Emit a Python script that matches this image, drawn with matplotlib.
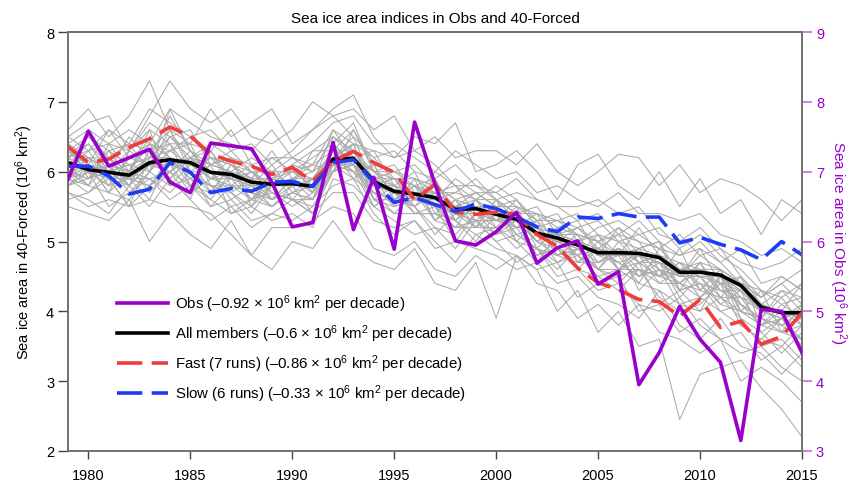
import matplotlib
matplotlib.use("Agg")
import matplotlib.pyplot as plt

plt.rcParams['font.family'] = ['Liberation Sans', 'DejaVu Sans']
plt.rcParams['mathtext.fontset'] = 'custom'
plt.rcParams['mathtext.rm'] = 'Liberation Sans'
plt.rcParams['mathtext.it'] = 'Liberation Sans'

years = list(range(1979, 2016))

# Observations (right axis, 10^6 km^2)
obs = [6.89, 7.58, 7.08, 7.20, 7.32, 6.85, 6.70, 7.41, 7.37, 7.33, 6.85,
       6.21, 6.27, 7.42, 6.17, 6.92, 5.89, 7.71, 6.82, 6.01, 5.95,
       6.14, 6.42, 5.69, 5.91, 6.01, 5.39, 5.57, 3.95, 4.41, 5.07,
       4.60, 4.27, 3.15, 5.03, 5.00, 4.41]

# Ensemble mean (left axis)
all_members = [6.13, 6.03, 5.99, 5.95, 6.13, 6.17, 6.13, 5.99, 5.96, 5.85, 5.82,
               5.83, 5.79, 6.18, 6.19, 5.86, 5.72, 5.68, 5.63, 5.46, 5.47,
               5.39, 5.32, 5.12, 5.05, 4.95, 4.84, 4.84, 4.83, 4.77, 4.56,
               4.56, 4.52, 4.37, 4.06, 3.98, 3.98]

fast = [6.36, 6.13, 6.18, 6.35, 6.47, 6.64, 6.51, 6.25, 6.15, 6.08, 5.96,
        6.06, 5.86, 6.15, 6.29, 6.13, 5.99, 5.60, 5.82, 5.42, 5.39,
        5.42, 5.39, 5.10, 4.93, 4.62, 4.41, 4.31, 4.17, 4.14, 3.93,
        4.17, 3.77, 3.86, 3.53, 3.64, 3.98]

slow = [6.08, 6.08, 5.94, 5.68, 5.75, 6.13, 5.99, 5.70, 5.76, 5.72, 5.85,
        5.86, 5.79, 6.13, 6.17, 5.85, 5.56, 5.63, 5.53, 5.43, 5.54,
        5.47, 5.35, 5.21, 5.14, 5.35, 5.33, 5.40, 5.35, 5.35, 4.98,
        5.06, 4.96, 4.88, 4.74, 5.00, 4.81]

# Individual members (left axis)
m01 = [6.3, 6.5,6.2,6.0,6.6,6.4, 6.0,5.7,6.1,5.9,5.6, 5.9,6.0,6.5,6.3,5.9, 5.9,5.5,5.8,5.6,5.3, 5.5,5.2,5.4,4.9,5.1, 4.6,5.0,4.7,4.5,4.9, 4.3,4.6,4.1,3.9,4.2, 3.8]
m02 = [5.9, 5.8,6.1,5.7,6.0,6.3, 6.4,5.8,5.7,5.5,6.0, 5.6,5.5,6.0,6.4,5.6, 5.5,5.9,5.3,5.2,5.6, 5.2,5.5,4.9,5.2,4.7, 5.0,4.6,4.9,5.0,4.3, 4.7,4.2,4.5,3.8,4.0, 4.4]
m03 = [6.0, 6.2,5.8,6.2,6.3,5.9, 6.2,6.3,5.8,5.6,5.9, 6.1,5.7,6.3,6.0,6.1, 5.6,5.8,5.9,5.4,5.2, 5.6,5.0,5.3,4.8,5.0, 5.1,4.8,4.4,4.9,4.6, 4.2,4.5,4.0,4.3,3.7, 3.6]
m04 = [6.5, 6.3,6.6,6.4,6.9,6.7, 6.5,6.6,6.3,6.4,6.1, 6.3,6.6,6.8,6.5,6.2, 6.3,6.0,5.9,6.1,5.8, 5.7,5.9,5.6,5.5,5.3, 5.4,5.1,5.3,5.0,4.8, 5.0,4.7,4.9,4.4,4.5, 4.3]
m05 = [5.7, 5.6,5.4,5.8,5.5,5.9, 5.6,5.3,5.5,5.2,5.4, 5.3,5.5,5.8,5.9,5.4, 5.1,5.3,5.0,4.7,5.1, 4.9,4.8,4.6,4.7,4.2, 4.4,4.5,4.0,4.1,3.7, 3.9,3.6,3.4,3.5,3.2, 3.0]
m06 = [6.2, 6.0,6.3,5.9,6.1,6.6, 6.1,6.2,5.9,6.0,5.7, 5.6,5.9,6.2,6.5,5.8, 5.7,5.6,5.9,5.3,5.6, 5.3,5.4,5.0,5.2,5.3, 4.8,5.2,5.0,4.6,4.4, 4.7,4.3,4.2,4.0,3.9, 4.1]
m07 = [5.9, 6.1,5.7,5.6,6.0,5.8, 5.9,5.6,6.0,5.7,5.5, 5.8,5.4,6.1,6.0,5.7, 5.4,5.7,5.3,5.5,5.2, 5.4,5.1,4.9,4.7,4.8, 4.5,4.3,4.6,4.2,4.0, 4.1,4.4,3.8,3.6,3.9, 3.5]
m08 = [6.4, 6.2,6.0,6.5,6.2,6.8, 6.3,5.9,6.2,6.1,5.9, 6.0,6.2,6.4,6.7,6.0, 5.9,5.8,5.6,5.7,5.9, 5.6,5.4,5.5,5.1,5.2, 5.3,5.0,5.1,4.9,5.1, 4.8,4.9,4.5,4.2,4.4, 4.6]
m09 = [6.0, 5.9,6.0,6.1,5.7,6.0, 6.3,6.0,5.6,5.8,5.6, 5.7,5.8,6.0,6.1,5.6, 5.8,5.4,5.5,5.0,5.4, 5.1,5.3,4.8,5.0,4.9, 4.7,4.9,4.5,4.7,4.2, 4.5,4.1,4.3,3.7,3.4, 3.7]
m10 = [6.1, 6.4,6.1,6.0,6.5,6.2, 5.8,6.1,6.0,5.6,6.0, 6.0,5.8,6.6,6.2,6.3, 5.8,6.0,5.4,5.6,5.5, 5.3,5.2,5.2,4.9,4.6, 4.9,4.7,4.8,4.4,4.6, 4.4,4.1,4.0,3.8,4.1, 3.9]
m11 = [5.8, 5.9,6.2,5.8,6.3,6.1, 6.0,5.5,5.8,6.0,5.7, 5.5,5.7,6.2,6.3,5.9, 5.5,5.6,5.7,5.3,5.0, 5.4,5.0,4.7,5.1,4.8, 4.6,4.9,4.3,4.6,4.1, 4.0,4.5,3.9,3.5,3.6, 3.3]
m12 = [6.3, 6.0,5.8,6.2,6.4,6.3, 6.5,6.2,6.1,5.9,6.2, 6.2,6.1,6.3,6.6,6.1, 6.0,5.9,5.7,5.8,5.6, 5.8,5.6,5.3,5.4,5.0, 5.2,5.3,5.1,5.2,4.9, 5.1,4.8,4.6,4.3,4.2, 4.4]
m13 = [5.6, 5.7,5.9,5.5,5.8,6.0, 5.8,5.6,5.4,5.5,5.3, 5.4,5.2,5.9,5.8,5.5, 5.3,5.1,5.2,4.9,5.3, 5.0,4.7,4.9,4.5,4.6, 4.3,4.4,4.1,4.0,4.2, 3.8,3.6,3.7,3.3,3.5, 3.2]
m14 = [6.2, 6.5,6.3,6.1,6.2,6.5, 6.2,6.4,6.2,6.0,5.8, 6.1,6.3,6.3,6.2,6.0, 6.1,5.7,5.6,5.9,5.7, 5.5,5.6,5.2,5.3,5.1, 5.0,4.8,5.2,4.8,4.7, 4.6,4.4,4.5,4.1,3.8, 4.0]
m15 = [6.0, 5.8,5.7,6.0,5.9,5.7, 6.0,5.8,5.7,5.4,5.8, 5.9,5.6,6.1,5.9,5.7, 5.6,5.5,5.2,5.1,5.4, 5.2,4.9,5.1,4.7,4.9, 4.6,4.5,4.6,4.4,4.4, 4.3,4.2,4.0,3.9,3.8, 3.6]
m16 = [6.4, 6.6,6.4,6.3,6.7,6.5, 6.6,6.1,6.0,6.2,6.0, 5.8,6.3,6.5,6.3,5.9, 6.0,6.1,5.8,5.5,5.7, 5.7,5.5,5.4,5.3,5.4, 5.1,5.0,4.9,5.0,4.5, 4.8,4.6,4.4,4.1,4.3, 4.2]
m17 = [5.8, 6.0,5.8,5.9,5.8,6.1, 5.7,5.9,5.8,5.8,5.5, 5.7,5.6,6.0,6.1,5.8, 5.5,5.6,5.5,5.4,5.3, 5.3,5.3,5.0,4.9,4.8, 4.9,4.7,4.5,4.6,4.3, 4.4,4.3,4.1,3.9,3.7, 3.8]
m18 = [6.1, 6.0,6.1,6.0,6.2,6.3, 6.1,6.0,6.0,5.7,5.9, 5.8,5.9,6.2,6.0,5.8, 5.8,5.7,5.6,5.5,5.5, 5.4,5.3,5.1,5.0,5.0, 4.8,4.9,4.8,4.6,4.5, 4.6,4.5,4.3,4.0,4.0, 4.0]
m19 = [6.6, 6.9,6.5,6.8,7.3,6.6, 6.4,6.9,6.5,6.7,6.9, 6.4,6.6,6.9,7.1,6.5, 6.2,6.5,6.4,6.7,6.0, 6.1,6.3,6.0,5.6,6.1, 6.25,5.8,5.6,6.0,5.5, 5.9,5.4,5.6,5.1,5.6, 5.4]
m20 = [5.5, 5.4,5.3,5.6,5.0,5.4, 5.1,4.9,5.3,4.8,4.6, 5.0,4.9,5.3,4.9,4.7, 4.6,4.9,4.4,4.3,4.7, 3.9,4.8,4.6,4.0,4.3, 3.7,4.0,3.5,3.6,2.45, 3.1,3.2,3.3,2.9,2.6, 2.2]
m21 = [6.5, 6.7,6.8,6.3,6.8,7.3, 6.9,6.7,6.9,6.5,6.4, 6.6,7.0,6.8,6.9,6.6, 6.8,6.3,6.5,6.2,6.3, 6.3,6.1,6.4,6.0,5.8, 6.0,6.25,6.2,5.8,6.1, 5.7,5.9,5.8,5.6,5.3, 5.6]
m22 = [5.7, 5.5,5.6,5.5,5.6,5.5, 5.5,5.4,5.1,4.8,5.2, 5.2,5.3,5.5,5.4,4.9, 4.8,5.0,4.6,4.5,4.8, 4.6,4.8,4.4,4.3,3.9, 4.1,3.8,4.1,3.7,3.6, 3.4,3.6,3.0,3.2,3.0, 2.7]
m23 = [6.2, 6.3,6.4,6.6,6.4,6.9, 6.7,6.5,6.4,6.3,6.6, 6.2,6.4,6.7,6.8,6.4, 6.4,6.2,6.0,6.3,6.1, 5.9,6.0,5.7,5.8,5.6, 5.5,5.7,5.4,5.4,5.3, 5.4,5.1,5.0,4.8,4.9, 4.7]
m24 = [5.9, 6.0,5.5,5.7,5.9,5.6, 5.8,5.5,5.6,5.3,5.4, 5.6,5.4,5.7,5.7,5.3, 5.2,5.3,4.9,5.0,4.9, 4.8,4.6,4.7,4.4,4.5, 4.2,4.1,3.9,4.3,3.8, 3.6,3.9,3.5,3.4,3.1, 3.4]
m25 = [6.3, 6.1,6.6,6.2,6.1,6.4, 6.4,6.3,6.6,6.1,6.2, 6.0,6.1,6.6,6.4,6.3, 6.2,6.3,6.1,5.8,5.8, 5.6,5.7,5.6,5.5,5.5, 5.6,5.4,5.5,5.1,5.0, 5.2,4.9,4.7,4.6,4.7, 4.9]
m26 = [6.0, 6.3,5.9,5.8,6.1,6.0, 6.2,5.7,5.9,5.6,5.8, 5.9,5.7,6.4,6.1,5.7, 5.6,5.8,5.5,5.3,5.5, 5.5,5.1,5.2,4.8,4.7, 4.9,4.6,4.7,4.5,4.7, 4.5,4.2,4.2,3.8,3.9, 4.0]
m27 = [5.8, 6.1,5.9,5.5,6.2,6.2, 5.9,5.8,5.5,5.6,5.7, 5.6,5.4,6.0,6.2,5.6, 5.4,5.4,5.4,5.2,5.3, 5.1,5.2,4.8,4.9,4.6, 4.5,4.6,4.4,4.3,4.1, 4.2,4.0,3.8,3.6,3.5, 3.8]
m28 = [6.4, 5.9,6.3,6.4,6.0,6.5, 6.3,6.1,6.3,6.0,5.8, 6.1,6.0,6.2,6.4,6.2, 5.9,5.9,5.8,5.6,5.7, 5.5,5.5,5.3,5.3,5.2, 5.0,5.1,5.0,4.9,4.8, 4.9,4.7,4.4,4.2,4.5, 4.3]
m29 = [6.1, 6.2,6.0,6.3,6.6,5.8, 6.1,6.2,6.1,5.8,6.1, 5.7,5.9,6.3,6.3,6.0, 5.7,5.5,5.7,5.5,5.4, 5.3,5.4,5.1,5.1,5.1, 4.7,4.8,4.9,4.5,4.6, 4.5,4.5,4.2,4.1,4.0, 3.9]
m30 = [5.9, 5.7,6.0,5.9,5.8,6.2, 6.0,5.8,5.8,5.7,5.6, 5.8,5.8,6.1,6.0,5.5, 5.7,5.4,5.4,5.3,5.1, 5.2,5.0,4.9,4.8,4.9, 4.6,4.6,4.6,4.5,4.4, 4.2,4.4,4.1,3.9,3.8, 3.9]
m31 = [6.2, 6.4,6.0,6.1,6.0,6.9, 6.3,6.0,5.7,5.9,6.3, 5.9,6.1,6.0,6.6,6.0, 5.8,5.6,6.0,5.8,5.4, 5.3,5.6,5.2,5.0,5.2, 4.9,5.1,4.7,4.8,4.5, 4.9,4.4,4.4,4.2,4.4, 4.1]
m32 = [5.8, 6.0,6.2,5.9,5.6,6.2, 5.9,6.1,5.4,5.6,5.5, 5.7,5.6,6.4,6.1,5.5, 5.7,5.5,5.1,5.4,5.3, 5.0,5.1,4.9,4.6,4.9, 4.6,4.4,4.7,4.1,4.3, 4.0,4.2,3.9,3.7,3.9, 3.6]
m33 = [6.1, 5.8,6.4,6.0,6.4,5.9, 6.2,6.1,6.2,5.5,5.8, 6.0,5.9,6.1,6.3,5.8, 5.9,5.6,5.6,5.5,5.6, 5.4,5.2,5.3,5.0,4.8, 5.1,4.6,4.8,4.7,4.4, 4.6,4.3,4.3,4.0,4.0, 3.8]
m34 = [6.0, 6.1,5.7,6.3,6.1,6.0, 5.6,6.3,5.9,6.1,5.6, 5.9,5.9,6.3,5.9,6.1, 5.6,5.7,5.5,5.2,5.2, 5.6,5.3,5.0,5.2,4.7, 4.7,4.9,4.6,4.5,4.7, 4.3,4.6,4.0,3.9,4.3, 4.0]
m35 = [5.9, 6.2,6.0,5.8,6.3,6.4, 5.8,5.7,6.1,5.9,5.7, 5.6,5.6,6.2,6.4,5.6, 5.6,5.8,5.3,5.6,5.2, 5.2,5.3,5.0,4.8,5.0, 4.8,4.7,4.5,4.8,4.3, 4.4,4.0,4.1,3.8,3.7, 4.1]
m36 = [6.3, 6.2,6.2,6.4,6.3,6.6, 6.0,6.2,6.1,6.0,6.0, 6.2,6.0,6.5,6.2,6.0, 6.0,5.8,5.7,5.7,5.6, 5.6,5.4,5.4,5.2,5.1, 5.0,5.2,4.8,4.8,4.6, 4.7,4.6,4.4,4.3,4.1, 4.2]
m37 = [6.0, 5.9,6.1,5.8,6.1,6.1, 6.2,5.9,5.9,5.8,5.8, 5.9,5.7,6.1,6.1,5.9, 5.7,5.6,5.6,5.4,5.4, 5.4,5.3,5.1,5.0,4.9, 4.9,4.8,4.8,4.7,4.5, 4.5,4.4,4.3,4.0,4.0, 3.9]
m38 = [6.2, 6.0,5.9,6.0,6.4,6.2, 6.1,5.9,6.0,5.9,5.9, 5.8,5.8,6.3,6.2,5.9, 5.8,5.7,5.7,5.5,5.5, 5.4,5.3,5.2,5.1,5.0, 4.9,4.8,4.9,4.8,4.6, 4.6,4.6,4.4,4.1,4.0, 4.0]
m39 = [6.1, 6.0,5.9,5.9,6.1,6.2, 6.0,6.0,5.9,5.8,5.8, 5.8,5.8,6.2,6.2,5.8, 5.7,5.7,5.6,5.5,5.4, 5.4,5.3,5.1,5.0,5.0, 4.8,4.8,4.8,4.7,4.5, 4.5,4.5,4.3,4.0,3.9, 4.0]
m40 = [5.9, 6.1,6.0,5.9,5.9,6.0, 6.2,6.0,5.9,5.8,5.8, 5.9,5.7,6.2,6.1,5.8, 5.7,5.7,5.6,5.4,5.5, 5.4,5.3,5.1,5.1,5.0, 4.8,4.9,4.7,4.7,4.6, 4.5,4.5,4.4,4.1,4.0, 3.9]
members = [m01, m02, m03, m04, m05, m06, m07, m08, m09, m10,
           m11, m12, m13, m14, m15, m16, m17, m18, m19, m20,
           m21, m22, m23, m24, m25, m26, m27, m28, m29, m30,
           m31, m32, m33, m34, m35, m36, m37, m38, m39, m40]

labels = [
    "Obs (\u20130.92 \u00d7 10$^6$ km$^2$ per decade)",
    "All members (\u20130.6 \u00d7 10$^6$ km$^2$ per decade)",
    "Fast (7 runs) (\u20130.86 \u00d7 10$^6$ km$^2$ per decade)",
    "Slow (6 runs) (\u20130.33 \u00d7 10$^6$ km$^2$ per decade)",
]

PURPLE = '#9900CC'
RED = '#F03C3C'
BLUE = '#1E3CF5'
SPINE = '#707070'

fig = plt.figure(figsize=(8.53, 4.81), dpi=100)
ax = fig.add_axes([0.0797, 0.0603, 0.8605, 0.871])
ax2 = ax.twinx()

for m in members:
    ax.plot(years, m, color='#ABABAB', lw=0.75, zorder=1)

h_all, = ax.plot(years, all_members, color='black', lw=2.6, zorder=3)
h_fast, = ax.plot(years, fast, color=RED, lw=2.6, zorder=4,
                  dashes=(7, 2.6))
h_slow, = ax.plot(years, slow, color=BLUE, lw=2.6, zorder=4,
                  dashes=(7, 2.6))
h_obs, = ax2.plot(years, obs, color=PURPLE, lw=2.6, zorder=5)

ax.set_xlim(1979, 2015)
ax.set_ylim(2, 8)
ax2.set_ylim(3, 9)
ax.set_xticks([1980, 1985, 1990, 1995, 2000, 2005, 2010, 2015])
ax.set_yticks([2, 3, 4, 5, 6, 7, 8])
ax2.set_yticks([3, 4, 5, 6, 7, 8, 9])

ax.tick_params(axis='both', direction='out', labelsize=10.5, color='#444444')
ax.tick_params(axis='y', length=7, width=1.0, pad=3)
ax.tick_params(axis='x', length=6, width=1.0, pad=6)
ax2.tick_params(axis='y', direction='out', length=7, width=1.2,
                color='#CC66DD', labelcolor=PURPLE, labelsize=10.5, pad=3)

for a in (ax, ax2):
    for s in a.spines.values():
        s.set_color(SPINE)
        s.set_linewidth(1.2)

ax.set_ylabel("Sea ice area in 40-Forced (10$^6$ km$^2$)", fontsize=10.5,
              labelpad=8)
ax2.set_ylabel("Sea ice area in Obs (10$^6$ km$^2$)", fontsize=11,
               color=PURPLE, rotation=270, labelpad=18)
ax.set_title("Sea ice area indices in Obs and 40-Forced", fontsize=11,
             pad=7)

ax.set_zorder(ax2.get_zorder())
ax2.patch.set_visible(False)

leg = ax2.legend([h_obs, h_all, h_fast, h_slow], labels,
                 loc='center left', bbox_to_anchor=(0.058, 0.245),
                 frameon=False, fontsize=10.8, handlelength=3.4,
                 handletextpad=0.5, labelspacing=0.55, borderaxespad=0,
                 borderpad=0.4)

fig.savefig("out.png", dpi=100)
